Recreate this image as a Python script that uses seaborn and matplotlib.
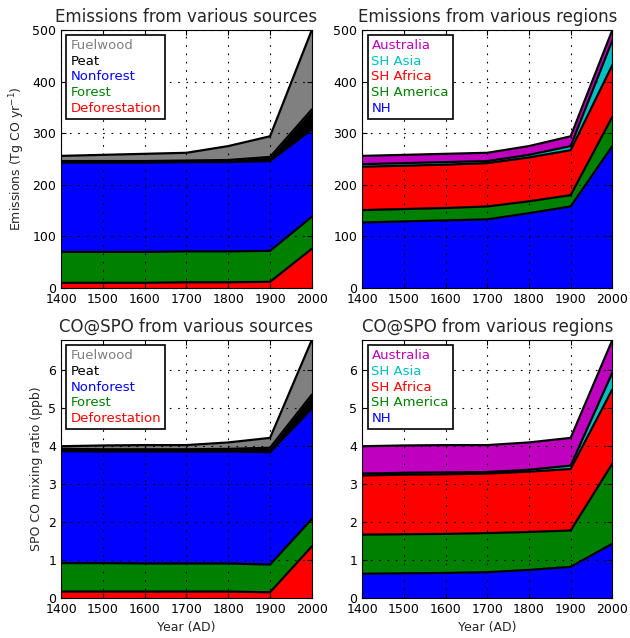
import numpy as np
import pandas as pd
import matplotlib
matplotlib.use("Agg")
import matplotlib.pyplot as plt
import seaborn as sns

# %% DATA
years = [1400, 1500, 1600, 1700, 1800, 1900, 2000]

src_names = ['Deforestation', 'Forest', 'Nonforest', 'Peat', 'Fuelwood']
src_colors = ['red', 'green', 'blue', 'black', 'gray']
reg_names = ['NH', 'SH America', 'SH Africa', 'SH Asia', 'Australia']
reg_colors = ['blue', 'green', 'red', 'c', 'm']

# emissions (Tg CO / yr) by source
emis_defo = [10, 10, 10, 11, 11, 12, 76]
emis_forest = [60, 60, 60, 60, 60, 60, 62]
emis_nonforest = [173, 173, 173, 173, 173, 174, 169]
emis_peat = [3, 3, 3, 3, 4, 8, 39]
emis_fuelwood = [10, 12, 14, 15, 27, 40, 154]

# emissions by region
emis_nh = [127, 129, 131, 133, 145, 158, 275]
emis_sham = [24, 24, 24, 25, 23, 22, 57]
emis_shaf = [84, 84, 84, 84, 85, 87, 100]
emis_shas = [5, 5, 5, 4, 5, 8, 48]
emis_aus = [16, 16, 16, 16, 17, 19, 20]

# CO at SPO (ppb) by source
spo_defo = [0.17, 0.17, 0.17, 0.17, 0.17, 0.15, 1.36]
spo_forest = [0.75, 0.75, 0.74, 0.74, 0.74, 0.73, 0.72]
spo_nonforest = [2.95, 2.94, 2.95, 2.95, 2.95, 2.96, 2.91]
spo_peat = [0.06, 0.06, 0.06, 0.06, 0.07, 0.12, 0.37]
spo_fuelwood = [0.07, 0.10, 0.11, 0.11, 0.17, 0.26, 1.44]

# CO at SPO by region
spo_nh = [0.64, 0.65, 0.66, 0.68, 0.74, 0.82, 1.43]
spo_sham = [1.03, 1.03, 1.03, 1.03, 1.00, 0.96, 2.11]
spo_shaf = [1.56, 1.57, 1.57, 1.57, 1.59, 1.62, 1.96]
spo_shas = [0.05, 0.05, 0.05, 0.04, 0.05, 0.09, 0.44]
spo_aus = [0.72, 0.72, 0.72, 0.71, 0.72, 0.73, 0.86]

# %% STYLE
sns.set_style('ticks', rc={
    'axes.edgecolor': 'black',
    'axes.linewidth': 1.2,
    'xtick.direction': 'in',
    'ytick.direction': 'in',
    'xtick.top': True,
    'ytick.right': True,
    'xtick.major.size': 4,
    'ytick.major.size': 4,
    'xtick.color': 'black',
    'ytick.color': 'black',
    'axes.grid': True,
    'grid.color': 'black',
    'grid.linewidth': 0.8,
})
plt.rcParams['font.family'] = ['DejaVu Sans']
plt.rcParams['font.size'] = 9


# %% FUNCTIONS
def stack_panel(ax, layers, names, colors, title):
    ax.stackplot(years, *layers, colors=colors, linewidth=0)
    cum = np.cumsum(np.array(layers), axis=0)
    df = pd.DataFrame({
        'year': np.tile(years, len(names)),
        'value': cum.ravel(),
        'layer': np.repeat(names, len(years)),
    })
    sns.lineplot(data=df, x='year', y='value', hue='layer',
                 palette=['black'] * len(names), linewidth=1.6,
                 legend=False, ax=ax)
    ax.set_xlim(1400, 2000)
    ax.set_ylim(0, cum[-1].max())
    ax.set_xticks(range(1400, 2001, 100))
    ax.set_title(title, fontsize=12)
    ax.set_xlabel('')
    ax.set_ylabel('')
    ax.set_axisbelow(False)
    ax.grid(True, zorder=5, linestyle=(0, (1.5, 6)))
    for s in ax.spines.values():
        s.set_zorder(10)
    handles = [plt.Rectangle((0, 0), 1, 1, visible=False) for _ in names]
    leg = ax.legend(handles[::-1], names[::-1], loc='upper left',
                    handlelength=0, handletextpad=0, fancybox=False,
                    framealpha=1, edgecolor='black', fontsize=9.5,
                    borderpad=0.3, labelspacing=0.2, borderaxespad=0.4)
    leg.get_frame().set_linewidth(1.2)
    leg.set_zorder(20)
    for txt, c in zip(leg.get_texts(), colors[::-1]):
        txt.set_color(c)


# %% PLOT
fig = plt.figure(figsize=(6.3, 6.38), dpi=100)
ax1 = fig.add_axes([0.097, 0.5486, 0.398, 0.4044])
ax2 = fig.add_axes([0.575, 0.5486, 0.397, 0.4044])
ax3 = fig.add_axes([0.097, 0.0627, 0.398, 0.4044])
ax4 = fig.add_axes([0.575, 0.0627, 0.397, 0.4044])

stack_panel(ax1, [emis_defo, emis_forest, emis_nonforest, emis_peat, emis_fuelwood],
            src_names, src_colors, 'Emissions from various sources')
stack_panel(ax2, [emis_nh, emis_sham, emis_shaf, emis_shas, emis_aus],
            reg_names, reg_colors, 'Emissions from various regions')
stack_panel(ax3, [spo_defo, spo_forest, spo_nonforest, spo_peat, spo_fuelwood],
            src_names, src_colors, 'CO@SPO from various sources')
stack_panel(ax4, [spo_nh, spo_sham, spo_shaf, spo_shas, spo_aus],
            reg_names, reg_colors, 'CO@SPO from various regions')

ax1.set_yticks(range(0, 501, 100))
ax2.set_yticks(range(0, 501, 100))
ax3.set_yticks(range(0, 7))
ax4.set_yticks(range(0, 7))

ax1.set_ylabel('Emissions (Tg CO yr$^{-1}$)')
ax3.set_ylabel('SPO CO mixing ratio (ppb)')
ax3.set_xlabel('Year (AD)')
ax4.set_xlabel('Year (AD)')

fig.savefig('out.png', dpi=100)
